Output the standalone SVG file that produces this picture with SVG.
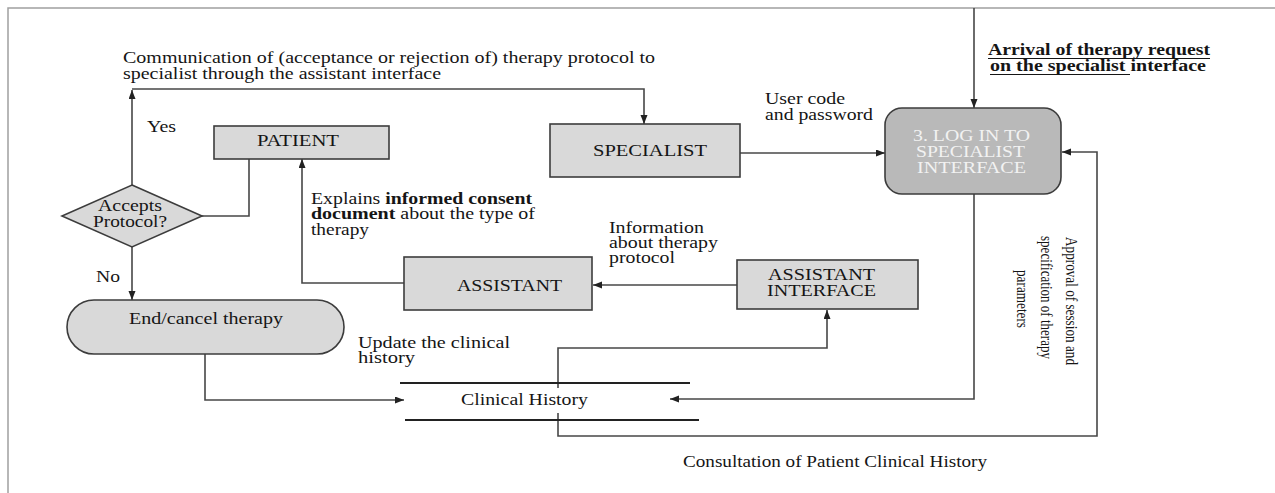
<svg xmlns="http://www.w3.org/2000/svg" width="1275" height="493" viewBox="0 0 1275 493">
<style>
text{font-family:"Liberation Serif","Times New Roman",serif;font-size:16px;fill:#151515}
.b{font-weight:bold}
.node{fill:#d9d9d9;stroke:#3c3c3c;stroke-width:1.6}
.login{fill:#b9b9b9;stroke:#3c3c3c;stroke-width:1.6}
.lt{fill:#f2f2f2}
.conn{fill:none;stroke:#474747;stroke-width:1.6}
.store{stroke:#222;stroke-width:2.2}
.frame{stroke:#a0a0a0;stroke-width:1.5;fill:none}
.ul{stroke:#151515;stroke-width:1.2}
.rot{font-size:14px}
</style>
<defs>
<marker id="arr" markerUnits="userSpaceOnUse" markerWidth="10" markerHeight="8" refX="9" refY="3.5" orient="auto">
<path d="M0,0 L9,3.5 L0,7 z" fill="#222"/>
</marker>
</defs>
<rect width="1275" height="493" fill="#fff"/>
<path class="frame" d="M8,493 V8 H1275"/>

<g id="connectors">
<path class="conn" d="M132,185 V90" marker-end="url(#arr)"/>
<path class="conn" d="M132,89 H644 V124" marker-end="url(#arr)"/>
<path class="conn" d="M249,159 V216 H202"/>
<path class="conn" d="M132,247 V300" marker-end="url(#arr)"/>
<path class="conn" d="M404,283 H302 V159" marker-end="url(#arr)"/>
<path class="conn" d="M737,285 H593" marker-end="url(#arr)"/>
<path class="conn" d="M740,153 H885" marker-end="url(#arr)"/>
<path class="conn" d="M974,8 V108" marker-end="url(#arr)"/>
<path class="conn" d="M974,194 V399 H670" marker-end="url(#arr)"/>
<path class="conn" d="M558,413 V436 H1097 V152 H1062" marker-end="url(#arr)"/>
<path class="conn" d="M558,388 V348 H827 V310" marker-end="url(#arr)"/>
<path class="conn" d="M205,354 V400 H404" marker-end="url(#arr)"/>
</g>

<g id="patient">
<rect class="node" x="214" y="126" width="175" height="33"/>
<text x="257" y="146" textLength="82" lengthAdjust="spacingAndGlyphs">PATIENT</text>
</g>

<g id="specialist">
<rect class="node" x="550" y="124" width="190" height="53"/>
<text x="593" y="156" textLength="114" lengthAdjust="spacingAndGlyphs">SPECIALIST</text>
</g>

<g id="login">
<rect class="login" x="885" y="108" width="176" height="86" rx="17" ry="17"/>
<text class="lt" x="913" y="141" textLength="117" lengthAdjust="spacingAndGlyphs">3. LOG IN TO</text>
<text class="lt" x="916" y="157" textLength="109" lengthAdjust="spacingAndGlyphs">SPECIALIST</text>
<text class="lt" x="917" y="173" textLength="109" lengthAdjust="spacingAndGlyphs">INTERFACE</text>
</g>

<g id="accepts">
<polygon class="node" points="132,185 202,216 132,247 62,216"/>
<text x="98" y="211" textLength="64" lengthAdjust="spacingAndGlyphs">Accepts</text>
<text x="93" y="227" textLength="74" lengthAdjust="spacingAndGlyphs">Protocol?</text>
</g>

<g id="end">
<rect class="node" x="67" y="300" width="277" height="54" rx="27" ry="27"/>
<text x="129" y="324" textLength="154" lengthAdjust="spacingAndGlyphs">End/cancel therapy</text>
</g>

<g id="assistant">
<rect class="node" x="404" y="257" width="188" height="53"/>
<text x="457" y="291" textLength="105" lengthAdjust="spacingAndGlyphs">ASSISTANT</text>
</g>

<g id="assistant-interface">
<rect class="node" x="737" y="260" width="181" height="49"/>
<text x="768" y="280" textLength="107" lengthAdjust="spacingAndGlyphs">ASSISTANT</text>
<text x="767" y="296" textLength="109" lengthAdjust="spacingAndGlyphs">INTERFACE</text>
</g>

<g id="clinical-history">
<line class="store" x1="400" y1="383" x2="690" y2="383"/>
<line class="store" x1="405" y1="420" x2="699" y2="420"/>
<text x="461" y="405" textLength="127" lengthAdjust="spacingAndGlyphs">Clinical History</text>
</g>

<g id="labels">
<text x="123" y="63" textLength="532" lengthAdjust="spacingAndGlyphs">Communication of (acceptance or rejection of) therapy protocol to</text>
<text x="123" y="79" textLength="318" lengthAdjust="spacingAndGlyphs">specialist through the assistant interface</text>
<text x="147" y="132" textLength="29" lengthAdjust="spacingAndGlyphs">Yes</text>
<text x="96" y="282" textLength="24" lengthAdjust="spacingAndGlyphs">No</text>
<text class="b" x="988" y="55" textLength="222" lengthAdjust="spacingAndGlyphs">Arrival of therapy request</text>
<line class="ul" x1="988" y1="58.5" x2="1210" y2="58.5"/>
<text class="b" x="990" y="71" textLength="216" lengthAdjust="spacingAndGlyphs">on the specialist interface</text>
<line class="ul" x1="990" y1="74.5" x2="1130" y2="74.5"/>
<text x="765" y="104" textLength="80" lengthAdjust="spacingAndGlyphs">User code</text>
<text x="765" y="120" textLength="108" lengthAdjust="spacingAndGlyphs">and password</text>
<text x="311" y="204" textLength="221" lengthAdjust="spacingAndGlyphs">Explains <tspan class="b">informed consent</tspan></text>
<text x="311" y="219" textLength="224" lengthAdjust="spacingAndGlyphs"><tspan class="b">document</tspan> about the type of</text>
<text x="311" y="235" textLength="58" lengthAdjust="spacingAndGlyphs">therapy</text>
<text x="609" y="233" textLength="95" lengthAdjust="spacingAndGlyphs">Information</text>
<text x="609" y="248" textLength="109" lengthAdjust="spacingAndGlyphs">about therapy</text>
<text x="609" y="263" textLength="66" lengthAdjust="spacingAndGlyphs">protocol</text>
<text x="358" y="348" textLength="152" lengthAdjust="spacingAndGlyphs">Update the clinical</text>
<text x="358" y="363" textLength="57" lengthAdjust="spacingAndGlyphs">history</text>
<text x="683" y="467" textLength="304" lengthAdjust="spacingAndGlyphs">Consultation of Patient Clinical History</text>
<text class="rot" transform="translate(1066,301) rotate(90) scale(1,1.2)" x="-64" y="0" textLength="128" lengthAdjust="spacingAndGlyphs">Approval of session and</text>
<text class="rot" transform="translate(1041,298) rotate(90) scale(1,1.2)" x="-62" y="0" textLength="123" lengthAdjust="spacingAndGlyphs">specification of therapy</text>
<text class="rot" transform="translate(1017,299) rotate(90) scale(1,1.2)" x="-29" y="0" textLength="58" lengthAdjust="spacingAndGlyphs">parameters</text>
</g>
</svg>
